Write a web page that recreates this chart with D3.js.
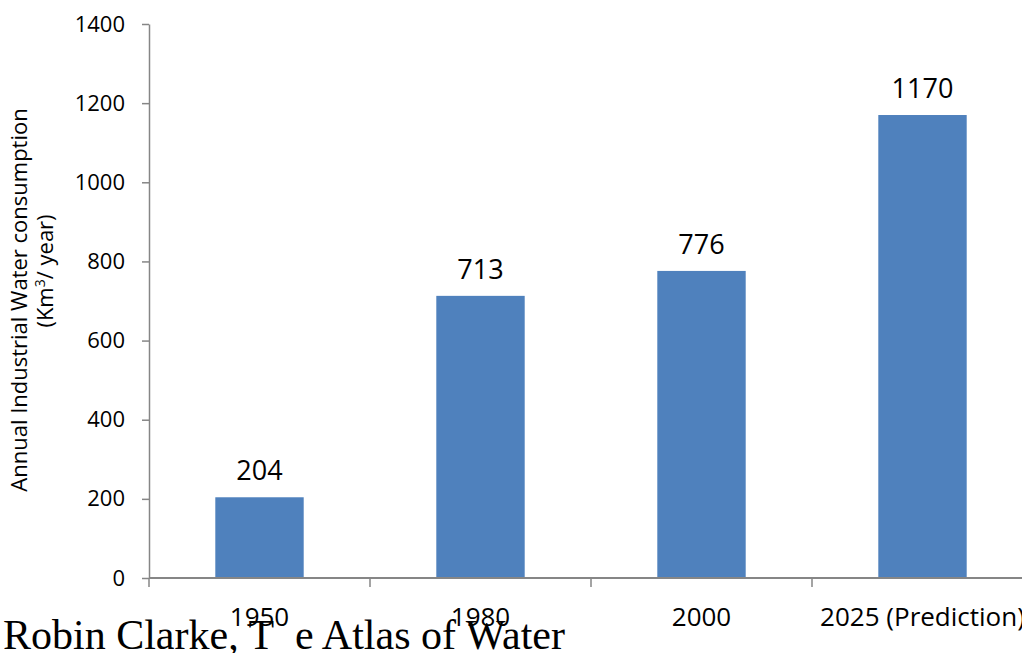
<!DOCTYPE html>
<html>
<head>
<meta charset="utf-8">
<script src="https://cdn.jsdelivr.net/npm/d3@7"></script>
<style>
  html, body { margin: 0; padding: 0; background: #fff; }
  svg { display: block; }
</style>
</head>
<body>
<svg id="chart" width="1022" height="653"></svg>
<script>
// Annual industrial water consumption, km³ per year
const categories = ["1950", "1980", "2000", "2025 (Prediction)"];
const values = [204, 713, 776, 1170];
const yTicks = [0, 200, 400, 600, 800, 1000, 1200, 1400];
const yTitleLines = ["Annual Industrial Water consumption"];
const caption = "Robin Clarke, T\u2002e Atlas of Water";

const svg = d3.select("#chart");
const margin = { left: 149, top: 24, bottom: 75 };
const W = 1022, H = 653;
const plotBottom = H - margin.bottom; // 578

const x = d3.scaleBand()
  .domain(categories)
  .range([margin.left, 1033])
  .paddingInner(0.6)
  .paddingOuter(0.3);

const y = d3.scaleLinear()
  .domain([0, 1400])
  .range([plotBottom, margin.top]);

const axisColor = "#868686";
const font = "'Open Sans', 'Noto Sans', sans-serif";

// bars
svg.append("g").selectAll("rect")
  .data(values)
  .join("rect")
  .attr("x", (d, i) => x(categories[i]))
  .attr("y", d => y(d))
  .attr("width", x.bandwidth())
  .attr("height", d => y(0) - y(d))
  .attr("fill", "#4F81BD");

// value labels
svg.append("g").selectAll("text")
  .data(values)
  .join("text")
  .attr("x", (d, i) => x(categories[i]) + x.bandwidth() / 2)
  .attr("y", d => y(d) - 17)
  .attr("text-anchor", "middle")
  .attr("font-family", font)
  .attr("font-size", 27)
  .attr("fill", "#000")
  .text(d => d);

// y axis
const yAxis = svg.append("g")
  .attr("transform", `translate(${margin.left},0)`)
  .call(d3.axisLeft(y).tickValues(yTicks).tickFormat(d3.format("d"))
    .tickSize(7).tickPadding(17).tickSizeOuter(0));
yAxis.select(".domain").attr("stroke", axisColor).attr("stroke-width", 1.5);
yAxis.selectAll(".tick line").attr("stroke", axisColor).attr("stroke-width", 1.5);
yAxis.selectAll(".tick text")
  .attr("font-family", font)
  .attr("font-size", 22)
  .attr("fill", "#000");

// x axis: baseline and category boundary ticks
const xg = svg.append("g");
xg.append("line")
  .attr("x1", margin.left).attr("x2", W)
  .attr("y1", y(0)).attr("y2", y(0))
  .attr("stroke", axisColor).attr("stroke-width", 2);
const bounds = categories.map(c => x(c) - x.step() * x.paddingOuter());
xg.selectAll("line.tick")
  .data(bounds)
  .join("line")
  .attr("class", "tick")
  .attr("x1", d => d).attr("x2", d => d)
  .attr("y1", y(0)).attr("y2", y(0) + 9)
  .attr("stroke", axisColor).attr("stroke-width", 1.5);

// caption
svg.append("text")
  .attr("x", 3)
  .attr("y", 649)
  .attr("font-family", "'Liberation Serif', 'DejaVu Serif', serif")
  .attr("font-size", 42)
  .attr("fill", "#000")
  .text(caption);

// category labels
xg.selectAll("text")
  .data(categories)
  .join("text")
  .attr("x", d => x(d) + x.bandwidth() / 2)
  .attr("y", 626)
  .attr("text-anchor", "middle")
  .attr("font-family", font)
  .attr("font-size", 26)
  .attr("fill", "#000")
  .text(d => d);

// y axis title
svg.append("text")
  .attr("transform", "translate(27,300) rotate(-90)")
  .attr("text-anchor", "middle")
  .attr("font-family", font)
  .attr("font-size", 22)
  .attr("fill", "#000")
  .text(yTitleLines[0]);

const t2 = svg.append("text")
  .attr("transform", "translate(53,271) rotate(-90)")
  .attr("text-anchor", "middle")
  .attr("font-family", font)
  .attr("font-size", 22)
  .attr("fill", "#000");
t2.append("tspan").text("(Km");
t2.append("tspan").attr("font-size", 14).attr("dy", -8).text("3");
t2.append("tspan").attr("dy", 8).text("/ year)");
</script>
</body>
</html>
